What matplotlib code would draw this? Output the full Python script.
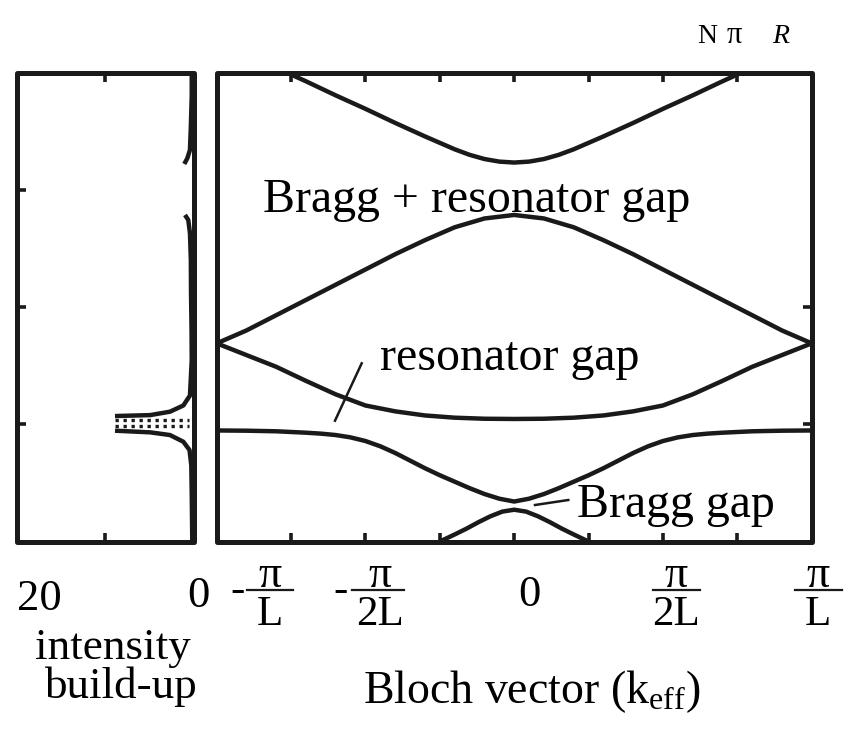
import numpy as np
import matplotlib
matplotlib.use("Agg")
import matplotlib.pyplot as plt
from matplotlib.patches import Rectangle
from matplotlib.lines import Line2D

plt.rcParams["font.family"] = ["Liberation Serif", "DejaVu Serif"]
plt.rcParams["mathtext.fontset"] = "custom"
plt.rcParams["mathtext.rm"] = "Liberation Serif"
plt.rcParams["mathtext.it"] = "Liberation Serif:italic"

# band structure, k in units of pi/L (half bands, mirrored about k=0)
k_top = [0, 0.05, 0.1, 0.15, 0.2, 0.3, 0.4, 0.5, 0.6, 0.7, 0.8]
f_top = [3.232, 3.24, 3.262, 3.298, 3.345, 3.455, 3.57, 3.69, 3.805, 3.925, 4.04]

k_b2 = [0, 0.1, 0.2, 0.3, 0.4, 0.5, 0.6, 0.7, 0.8, 0.9, 1.0]
f_b2 = [2.785, 2.755, 2.68, 2.57, 2.45, 2.32, 2.19, 2.06, 1.93, 1.80, 1.69]

k_b3 = [0, 0.1, 0.2, 0.3, 0.4, 0.5, 0.6, 0.7, 0.8, 0.9, 1.0]
f_b3 = [1.045, 1.047, 1.056, 1.075, 1.11, 1.16, 1.255, 1.37, 1.49, 1.59, 1.69]

k_b4 = [0, 0.05, 0.1, 0.15, 0.2, 0.25, 0.3, 0.35, 0.4, 0.45, 0.5, 0.55, 0.6, 0.65, 0.7, 0.8, 0.9, 1.0]
f_b4 = [0.341, 0.365, 0.405, 0.455, 0.51, 0.565, 0.625, 0.69, 0.755, 0.812, 0.857, 0.888, 0.908, 0.92, 0.928, 0.94, 0.945, 0.947]

k_b5 = [0, 0.04, 0.08, 0.12, 0.16, 0.2, 0.25, 0.3]
f_b5 = [0.271, 0.255, 0.215, 0.165, 0.11, 0.06, 0.0, -0.06]

# intensity build-up (left panel)
i_up = [0.2, 0.2, 0.3, 0.4, 0.7, 1.04]
f_up = [4.05, 3.8, 3.54, 3.34, 3.268, 3.22]
i_mid = [0.96, 0.59, 0.4, 0.3, 0.28, 0.22, 0.2, 0.4, 1.15, 2.66, 4.9, 8.87]
f_mid = [2.785, 2.742, 2.629, 2.4, 2.117, 1.8, 1.548, 1.245, 1.16, 1.107, 1.078, 1.07]
i_low = [8.87, 4.9, 2.66, 1.15, 0.45, 0.25, 0.2, 0.13]
f_low = [0.945, 0.931, 0.908, 0.851, 0.78, 0.65, 0.41, -0.05]
i_dash = [8.87, 0.5]
f_dash_hi = [1.036, 1.036]
f_dash_lo = [0.985, 0.985]

W, H = 846, 729
fig = plt.figure(figsize=(W / 100, H / 100), dpi=100)

def px(x, y):
    return x / W, 1 - y / H

LW_BOX = 3.6
LW_CURVE = 3.2
INK = "#1a1a1a"

def frame(ax):
    for s in ax.spines.values():
        s.set_visible(False)
    ax.add_patch(Rectangle((0, 0), 1, 1, transform=ax.transAxes, fill=False,
                           lw=LW_BOX, ec=INK, joinstyle="round", clip_on=False, zorder=5))
    ax.tick_params(direction="in", length=6.5, width=2.6, color=INK,
                   labelbottom=False, labelleft=False, labeltop=False, labelright=False)

axL = fig.add_axes([16.5 / W, 1 - 541.5 / H, 177 / W, 469 / H])
axR = fig.add_axes([216.7 / W, 1 - 541.5 / H, 595 / W, 469 / H])

# left panel
axL.plot(i_up, f_up, color=INK, lw=LW_CURVE, solid_capstyle="butt")
axL.plot(i_mid, f_mid, color=INK, lw=LW_CURVE, solid_capstyle="butt")
axL.plot(i_low, f_low, color=INK, lw=LW_CURVE, solid_capstyle="butt")
for fd in (f_dash_hi, f_dash_lo):
    axL.plot(i_dash, fd, color=INK, lw=2.4, dashes=(1.0, 1.4), dash_capstyle="butt")
axL.set_xlim(20, 0)
axL.set_ylim(0, 4)
axL.set_xticks([10])
axL.set_yticks([1, 2, 3])
frame(axL)
axL.tick_params(top=True, bottom=True, left=True, right=False)

# right panel
def mirror(k, f):
    k = np.asarray(k, float)
    f = np.asarray(f, float)
    return np.concatenate([-k[::-1], k[1:]]), np.concatenate([f[::-1], f[1:]])

for k, f in [(k_top, f_top), (k_b2, f_b2), (k_b3, f_b3), (k_b4, f_b4), (k_b5, f_b5)]:
    kk, ff = mirror(k, f)
    axR.plot(kk, ff, color=INK, lw=LW_CURVE, solid_capstyle="butt", solid_joinstyle="round")
axR.set_xlim(-1, 1)
axR.set_ylim(0, 4)
axR.set_xticks([-0.75, -0.5, -0.25, 0, 0.25, 0.5, 0.75])
axR.set_yticks([1, 2])
frame(axR)
axR.tick_params(top=True, bottom=True, left=False, right=True)

# annotations
FS = 34.5
fig.text(*px(477, 212), "Bragg + resonator gap", fontsize=FS, ha="center", va="baseline")
fig.text(*px(510, 370), "resonator gap", fontsize=FS, ha="center", va="baseline")
fig.text(*px(676, 516.7), "Bragg gap", fontsize=FS, ha="center", va="baseline")
fig.add_artist(Line2D([361.7 / W, 335 / W], [1 - 363.3 / H, 1 - 420.7 / H], color=INK, lw=1.8))
fig.add_artist(Line2D([535 / W, 568.3 / W], [1 - 505 / H, 1 - 500 / H], color=INK, lw=1.8))

fig.text(*px(697, 43), "N", fontsize=20, ha="left", va="baseline")
fig.text(*px(734, 43), "π", fontsize=22, ha="center", va="baseline")
fig.text(*px(772, 43), "R", fontsize=20, ha="left", va="baseline", style="italic")

# x tick labels drawn as stacked fractions
FT = 31
def frac(xc, num, den, x0, x1, minus_x=None):
    fig.text(*px(xc, 587), num, fontsize=FT + 2, ha="center", va="baseline")
    fig.text(*px(xc, 625), den, fontsize=FT, ha="center", va="baseline")
    fig.add_artist(Line2D([x0 / W, x1 / W], [1 - 590 / H, 1 - 590 / H], color=INK, lw=1.6))
    if minus_x is not None:
        fig.text(*px(minus_x, 601), "-", fontsize=FT, ha="center", va="baseline")

frac(270, "π", "L", 247, 293, minus_x=237)
frac(380, "π", "2L", 352, 404, minus_x=340)
frac(676, "π", "2L", 653, 700)
frac(818, "π", "L", 795, 842)
fig.text(*px(529, 606), "0", fontsize=32, ha="center", va="baseline")

fig.text(*px(39, 610), "20", fontsize=32, ha="center", va="baseline")
fig.text(*px(198, 607), "0", fontsize=32, ha="center", va="baseline")
fig.text(*px(112.5, 659), "intensity", fontsize=32.5, ha="center", va="baseline")
fig.text(*px(120, 698), "build-up", fontsize=32.5, ha="center", va="baseline")
fig.text(*px(532, 703), r"Bloch vector (k$_{\mathrm{eff}}$)", fontsize=33, ha="center", va="baseline")

fig.savefig("out.png", dpi=100)
